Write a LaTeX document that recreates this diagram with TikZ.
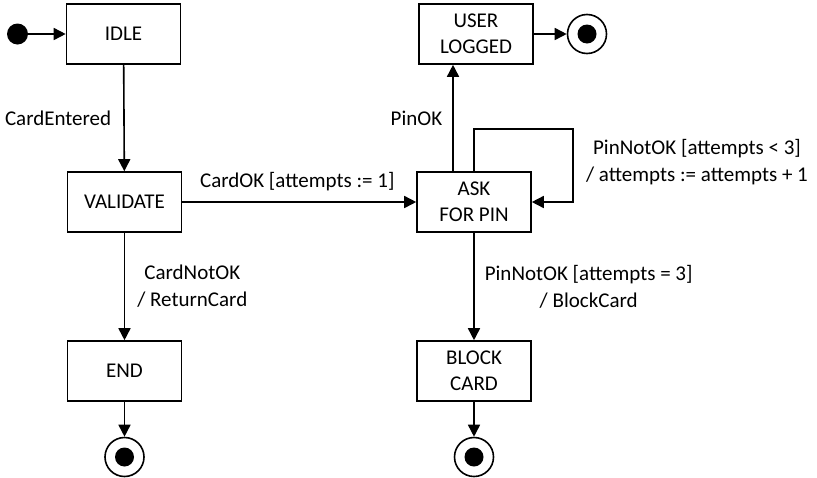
\documentclass[tikz,border=0pt]{standalone}
\usepackage{fontspec}
\setmainfont{Carlito}
\usetikzlibrary{arrows.meta}

\tikzset{
  state/.style={draw, line width=0.8pt, minimum width=57pt, minimum height=30pt,
    align=center, inner sep=1pt, font=\fontsize{10.5}{13}\selectfont},
  trans/.style={line width=0.8pt, -{Triangle[length=6pt,width=6pt]}},
  lbl/.style={align=center, inner sep=0pt, font=\fontsize{10.5}{13.5}\selectfont},
  initdot/.style={circle, fill=black, minimum size=10.5pt, inner sep=0pt},
  finring/.style={circle, draw, line width=0.8pt, minimum size=19.5pt, inner sep=0pt},
  findot/.style={circle, fill=black, minimum size=9.5pt, inner sep=0pt}
}

\begin{document}
\begin{tikzpicture}[x=0.5pt, y=-0.5pt]
  \useasboundingbox (0,0) rectangle (817,477);

  % states, left column
  \node[initdot] (init) at (17.5,34) {};
  \node[state] (idle) at (123.5,34) {IDLE};
  \node[state] (validate) at (124.5,202) {VALIDATE};
  \node[state] (cardend) at (124.5,371) {END};
  \node[finring] (finEnd) at (124.5,457) {};
  \node[findot] at (finEnd) {};

  % states, right column
  \node[state] (userlogged) at (476,34) {USER\\LOGGED};
  \node[finring] (finUser) at (587,34) {};
  \node[findot] at (finUser) {};
  \node[state] (askpin) at (474,202) {ASK\\FOR PIN};
  \node[state] (blockcard) at (474,371) {BLOCK\\CARD};
  \node[finring] (finBlock) at (474,457) {};
  \node[findot] at (finBlock) {};

  % transitions
  \draw[trans] (init) -- (idle);
  \draw[trans] (idle) -- (validate) node[lbl, pos=0.5, anchor=east, xshift=-6pt] {CardEntered};
  \draw[trans] (validate) -- (askpin) node[lbl, midway, anchor=south, yshift=5pt, xshift=-1pt] {CardOK [attempts := 1]};
  \draw[trans] (validate) -- (cardend) node[lbl, pos=0.5, anchor=west, xshift=6pt] {CardNotOK\\/ ReturnCard};
  \draw[trans] (cardend) -- (finEnd);
  \draw[trans] ([xshift=-10.5pt]askpin.north) -- ([xshift=-10.5pt]askpin.north |- userlogged.south)
    node[lbl, pos=0.5, anchor=east, xshift=-5pt] {PinOK};
  \draw[trans] (userlogged) -- (finUser);
  \coordinate (loopR) at (573,129);
  \draw[trans] (askpin.north) |- (loopR) |- (askpin.east);
  \node[lbl] (loopLbl) at (697,162) {PinNotOK [attempts < 3]\\/ attempts := attempts + 1};
  \draw[trans] (askpin) -- (blockcard) node[lbl, pos=0.5, anchor=west, xshift=5pt] {PinNotOK [attempts = 3]\\/ BlockCard};
  \draw[trans] (blockcard) -- (finBlock);
\end{tikzpicture}
\end{document}
